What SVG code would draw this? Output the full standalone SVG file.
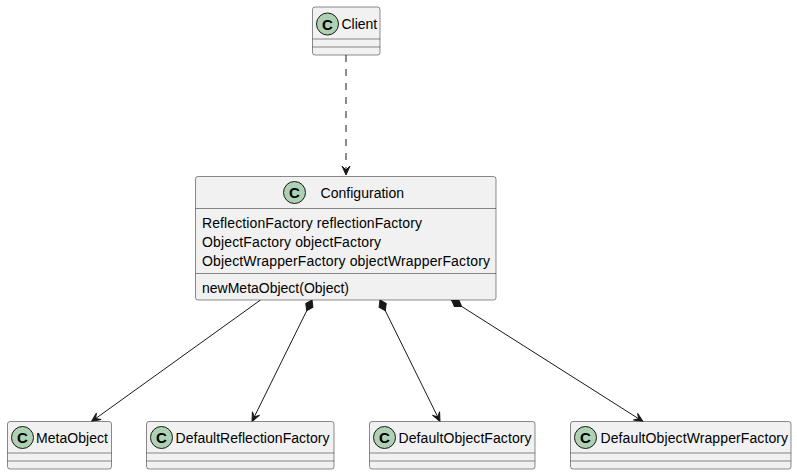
<svg xmlns="http://www.w3.org/2000/svg" width="797" height="475" viewBox="0 0 797 475">
<defs>
<style>
.box{fill:#F1F1F1;stroke:#181818;stroke-width:0.5}
.sep{stroke:#181818;stroke-width:0.5}
.ci{fill:#ADD1B2;stroke:#181818;stroke-width:1}
.cl{font-family:"Liberation Sans",Arial,sans-serif;font-size:15px;font-weight:bold;fill:#000;text-anchor:middle}
.t{font-family:"Liberation Sans",Arial,sans-serif;font-size:14px;fill:#000}
.ln{stroke:#181818;stroke-width:1;fill:none}
</style>
<marker id="arr" markerUnits="userSpaceOnUse" markerWidth="12" markerHeight="12" viewBox="-11 -6 12 12" refX="0" refY="0" orient="auto">
<path d="M0,0 L-9,-4 L-5,0 L-9,4 Z" fill="#181818" stroke="#181818" stroke-width="1" stroke-linejoin="miter"/>
</marker>
<marker id="dia" markerUnits="userSpaceOnUse" markerWidth="14" markerHeight="10" viewBox="-1 -5 14 10" refX="0" refY="0" orient="auto">
<path d="M0,0 L6,-4 L12,0 L6,4 Z" fill="#181818" stroke="#181818" stroke-width="1"/>
</marker>
</defs>

<g id="connectors">
<line class="ln" x1="346" y1="55" x2="346" y2="175" stroke-dasharray="7,7" marker-end="url(#arr)"/>
<line class="ln" x1="260.5" y1="300" x2="91.5" y2="421.5" marker-end="url(#arr)"/>
<line class="ln" x1="312" y1="300" x2="252" y2="421.5" marker-start="url(#dia)" marker-end="url(#arr)"/>
<line class="ln" x1="380" y1="300" x2="440" y2="421.5" marker-start="url(#dia)" marker-end="url(#arr)"/>
<line class="ln" x1="451.5" y1="300" x2="643" y2="421.5" marker-start="url(#dia)" marker-end="url(#arr)"/>
</g>

<g id="Client">
<rect class="box" x="312.5" y="7" width="67.5" height="48" rx="2.5"/>
<line class="sep" x1="312.5" y1="39" x2="380" y2="39"/>
<line class="sep" x1="312.5" y1="47" x2="380" y2="47"/>
<circle class="ci" cx="327.5" cy="24" r="11"/>
<text class="cl" x="327.5" y="29.5">C</text>
<text class="t" x="341.5" y="29" textLength="35.6">Client</text>
</g>

<g id="Configuration">
<rect class="box" x="195.5" y="176.5" width="300.5" height="123.5" rx="2.5"/>
<line class="sep" x1="195.5" y1="208.5" x2="496" y2="208.5"/>
<line class="sep" x1="195.5" y1="273.5" x2="496" y2="273.5"/>
<circle class="ci" cx="294.5" cy="192.5" r="11"/>
<text class="cl" x="294.5" y="198">C</text>
<text class="t" x="320.5" y="197.5" textLength="83.6">Configuration</text>
<text class="t" x="202" y="227.5" textLength="220">ReflectionFactory reflectionFactory</text>
<text class="t" x="202" y="246.5" textLength="179">ObjectFactory objectFactory</text>
<text class="t" x="202" y="265.5" textLength="288">ObjectWrapperFactory objectWrapperFactory</text>
<text class="t" x="202" y="292.5" textLength="147">newMetaObject(Object)</text>
</g>

<g id="MetaObject">
<rect class="box" x="7.5" y="421.5" width="104" height="47.5" rx="2.5"/>
<line class="sep" x1="7.5" y1="453" x2="111.5" y2="453"/>
<line class="sep" x1="7.5" y1="461" x2="111.5" y2="461"/>
<circle class="ci" cx="22.5" cy="437.5" r="11"/>
<text class="cl" x="22.5" y="443">C</text>
<text class="t" x="36" y="442.5" textLength="72">MetaObject</text>
</g>

<g id="DefaultReflectionFactory">
<rect class="box" x="146.5" y="421.5" width="187.5" height="47.5" rx="2.5"/>
<line class="sep" x1="146.5" y1="453" x2="334" y2="453"/>
<line class="sep" x1="146.5" y1="461" x2="334" y2="461"/>
<circle class="ci" cx="161.5" cy="437.5" r="11"/>
<text class="cl" x="161.5" y="443">C</text>
<text class="t" x="175.5" y="442.5" textLength="154">DefaultReflectionFactory</text>
</g>

<g id="DefaultObjectFactory">
<rect class="box" x="369.5" y="421.5" width="165.5" height="47.5" rx="2.5"/>
<line class="sep" x1="369.5" y1="453" x2="535" y2="453"/>
<line class="sep" x1="369.5" y1="461" x2="535" y2="461"/>
<circle class="ci" cx="384.5" cy="437.5" r="11"/>
<text class="cl" x="384.5" y="443">C</text>
<text class="t" x="398.5" y="442.5" textLength="133">DefaultObjectFactory</text>
</g>

<g id="DefaultObjectWrapperFactory">
<rect class="box" x="570.5" y="421.5" width="220.5" height="47.5" rx="2.5"/>
<line class="sep" x1="570.5" y1="453" x2="791" y2="453"/>
<line class="sep" x1="570.5" y1="461" x2="791" y2="461"/>
<circle class="ci" cx="585.5" cy="437.5" r="11"/>
<text class="cl" x="585.5" y="443">C</text>
<text class="t" x="600.5" y="442.5" textLength="187.6">DefaultObjectWrapperFactory</text>
</g>
</svg>
